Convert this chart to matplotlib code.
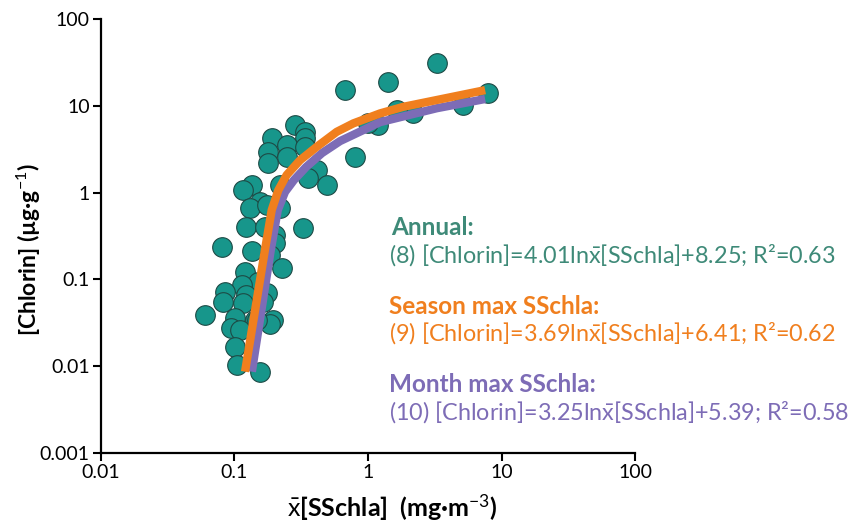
import matplotlib
matplotlib.use("Agg")
import matplotlib.pyplot as plt
from matplotlib.ticker import FixedLocator, FixedFormatter, NullLocator

plt.rcParams['font.family'] = ['Lato', 'DejaVu Sans']
plt.rcParams['mathtext.fontset'] = 'custom'
plt.rcParams['mathtext.rm'] = 'Lato'
plt.rcParams['mathtext.it'] = 'Lato:italic'
plt.rcParams['mathtext.bf'] = 'Lato:bold'

# observed points: mean surface chla (mg m-3) vs sediment chlorin (ug g-1)
sschla = [3.27, 1.42, 0.673, 7.96, 5.17, 2.18, 1.64, 1.19, 1.00, 0.80,
          0.413, 0.491, 0.284, 0.337, 0.337, 0.190, 0.246, 0.179, 0.246, 0.337,
          0.179, 0.219, 0.135, 0.116, 0.155, 0.131, 0.219, 0.123, 0.169, 0.201,
          0.327, 0.080, 0.135, 0.201, 0.185, 0.226, 0.120, 0.151, 0.113, 0.085,
          0.123, 0.174, 0.082, 0.116, 0.060, 0.101, 0.143, 0.195, 0.185, 0.095,
          0.110, 0.101, 0.104, 0.155, 0.174, 0.164, 0.356, 0.147]
chlorin = [30.9, 19.0, 15.2, 13.9, 10.2, 8.2, 8.95, 6.0, 6.3, 2.59,
           1.82, 1.22, 6.0, 5.03, 4.22, 4.22, 3.53, 2.96, 2.59, 3.38,
           2.18, 1.22, 1.22, 1.07, 0.785, 0.659, 0.659, 0.405, 0.405, 0.325,
           0.388, 0.236, 0.212, 0.261, 0.191, 0.134, 0.123, 0.094, 0.086, 0.072,
           0.066, 0.069, 0.055, 0.053, 0.039, 0.0356, 0.034, 0.034, 0.031, 0.0273,
           0.026, 0.0168, 0.0103, 0.00865, 0.72, 0.055, 1.47, 0.034]

# fitted curves
season_x = [0.120, 0.169, 0.190, 0.213, 0.246, 0.310, 0.413, 0.583, 0.776, 1.23, 1.84, 3.27, 7.52]
season_y = [0.00865, 0.218, 0.630, 1.07, 1.60, 2.37, 3.38, 5.03, 6.29, 8.2, 9.77, 11.7, 15.2]
month_x = [0.135, 0.187, 0.211, 0.239, 0.279, 0.343, 0.452, 0.617, 1.23, 3.27, 7.52]
month_y = [0.00865, 0.218, 0.630, 1.02, 1.40, 1.97, 2.86, 3.93, 6.5, 9.4, 12.0]

ticks = [0.001, 0.01, 0.1, 1, 10, 100]
tick_labels = ['0.001', '0.01', '0.1', '1', '10', '100']

teal = '#17968b'
green_txt = '#3e8a78'
orange = '#f07f1e'
purple = '#7d6cb6'

fig = plt.figure(figsize=(8.62, 5.24), dpi=100)
ax = fig.add_axes([0.117, 0.1355, 0.620, 0.828])

ax.scatter(sschla, chlorin, s=200, color=teal, edgecolor='#1d4a45', linewidth=0.8, zorder=2)
ax.plot(month_x, month_y, color=purple, lw=6, solid_capstyle='butt', zorder=3)
ax.plot(season_x, season_y, color=orange, lw=6, solid_capstyle='butt', zorder=4)

ax.set_xscale('log')
ax.set_yscale('log')
ax.set_xlim(0.01, 100)
ax.set_ylim(0.001, 100)
ax.xaxis.set_major_locator(FixedLocator(ticks[1:]))
ax.xaxis.set_major_formatter(FixedFormatter(tick_labels[1:]))
ax.yaxis.set_major_locator(FixedLocator(ticks))
ax.yaxis.set_major_formatter(FixedFormatter(tick_labels))
ax.xaxis.set_minor_locator(NullLocator())
ax.yaxis.set_minor_locator(NullLocator())

for side in ['top', 'right']:
    ax.spines[side].set_visible(False)
for side in ['left', 'bottom']:
    ax.spines[side].set_linewidth(1.6)
ax.tick_params(length=6, width=1.5, labelsize=14, pad=2)

ax.set_ylabel(r'[Chlorin] (µg·g$^{-1}$)', fontsize=16.5, fontweight='bold')
ax.yaxis.set_label_coords(-0.108, 0.468)
ax.set_xlabel(r'$\bar{\mathrm{x}}$[SSchla]  (mg·m$^{-3}$)', fontsize=18, fontweight='bold')
ax.xaxis.set_label_coords(0.545, -0.09)

# equation annotations (figure pixel coords from top-left)
W, H = 862, 524
def put(x, y, s, c, bold=False):
    fig.text(x / W, 1 - y / H, s, color=c, fontsize=17.5 if bold else 16.8,
             fontweight='bold' if bold else 'normal', va='center', ha='left')

xbar = r'ln$\bar{\mathrm{x}}$'
put(391, 227, 'Annual:', green_txt, True)
put(389, 255, '(8) [Chlorin]=4.01' + xbar + '[SSchla]+8.25; R²=0.63', green_txt)
put(389, 307, 'Season max SSchla:', orange, True)
put(389, 333, '(9) [Chlorin]=3.69' + xbar + '[SSchla]+6.41; R²=0.62', orange)
put(389, 385, 'Month max SSchla:', purple, True)
put(389, 412, '(10) [Chlorin]=3.25' + xbar + '[SSchla]+5.39; R²=0.58', purple)

fig.savefig('out.png', dpi=100)
